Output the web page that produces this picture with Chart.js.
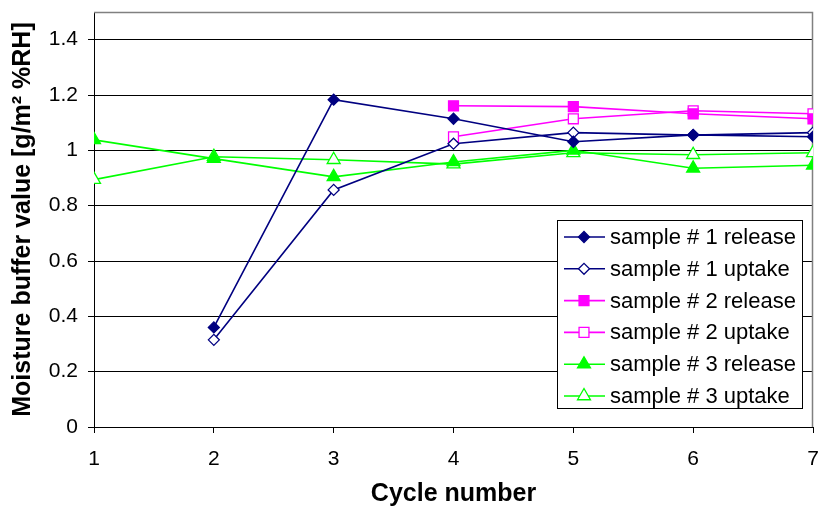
<!DOCTYPE html>
<html><head><meta charset="utf-8">
<script src="https://cdn.jsdelivr.net/npm/chart.js@4"></script>
<style>html,body{margin:0;padding:0;background:#fff}#wrap{width:819px;height:513px}</style>
</head><body><div id="wrap"><canvas id="c" width="819" height="513"></canvas></div>
<script>
const cycles = [1, 2, 3, 4, 5, 6, 7];
const s1Release = [null, 0.36, 1.183, 1.114, 1.031, 1.056, 1.049];
const s1Uptake  = [null, 0.315, 0.857, 1.024, 1.064, 1.055, 1.064];
const s2Release = [null, null, null, 1.161, 1.158, 1.132, 1.114];
const s2Uptake  = [null, null, null, 1.049, 1.114, 1.143, 1.132];
const s3Release = [1.038, 0.97, 0.904, 0.958, 1.0, 0.935, 0.946];
const s3Uptake  = [0.894, 0.977, 0.966, 0.95, 0.991, 0.984, 0.991];
const yTicks = [0, 0.2, 0.4, 0.6, 0.8, 1, 1.2, 1.4];

const pts = arr => cycles.map((c, i) => ({x: c, y: arr[i]}));
const NAVY = '#000080', MAG = '#FF00FF', GRN = '#00FF00';
function ds(label, arr, color, style, filled, r) {
  return {label, data: pts(arr), borderColor: color, backgroundColor: filled ? color : '#fff',
    pointBorderColor: color, pointBackgroundColor: filled ? color : '#fff',
    pointStyle: style, pointRadius: r, pointHoverRadius: r, pointBorderWidth: 1.3,
    borderWidth: 1.6, spanGaps: false, tension: 0};
}
const datasets = [
  ds('sample # 1 release', s1Release, NAVY, 'rectRot', true, 5.5),
  ds('sample # 1 uptake', s1Uptake, NAVY, 'rectRot', false, 5.5),
  ds('sample # 2 release', s2Release, MAG, 'rect', true, 7),
  ds('sample # 2 uptake', s2Uptake, MAG, 'rect', false, 7),
  ds('sample # 3 release', s3Release, GRN, 'triangle', true, 7.5),
  ds('sample # 3 uptake', s3Uptake, GRN, 'triangle', false, 7.5)
];

const FONT = '"Liberation Sans", Arial, sans-serif';
const widen = {
  id: 'widen',
  afterLayout(chart) {
    const target = 813;
    const d = target - chart.chartArea.right;
    if (d === 0) return;
    chart.chartArea.right += d;
    chart.chartArea.width = chart.chartArea.right - chart.chartArea.left;
    const x = chart.scales.x;
    x.right += d; x.width += d; x.configure();
    x._gridLineItems = null; x._labelItems = null;
    const y = chart.scales.y; y._gridLineItems = null;
  }
};
const frame = {
  id: 'frame',
  beforeDatasetsDraw(chart) {
    const a = chart.chartArea, ctx = chart.ctx;
    ctx.save(); ctx.strokeStyle = '#808080'; ctx.lineWidth = 1.5;
    ctx.beginPath(); ctx.moveTo(a.left, a.top + 0.5); ctx.lineTo(a.right - 0.5, a.top + 0.5);
    ctx.lineTo(a.right - 0.5, a.bottom); ctx.stroke(); ctx.restore();
  }
};
const boxLegend = {
  id: 'boxLegend',
  afterDatasetsDraw(chart) {
    const ctx = chart.ctx;
    const x0 = 557, y0 = 220, w = 245, h = 188;
    ctx.save();
    ctx.fillStyle = '#fff'; ctx.fillRect(x0, y0, w, h);
    ctx.strokeStyle = '#000'; ctx.lineWidth = 1; ctx.strokeRect(x0 + 0.5, y0 + 0.5, w, h);
    ctx.font = '22px ' + FONT;
    ctx.textBaseline = 'middle'; ctx.textAlign = 'left';
    chart.data.datasets.forEach((d, i) => {
      const cy = y0 + 17 + i * 31.8;
      ctx.strokeStyle = d.borderColor; ctx.lineWidth = 1.6;
      ctx.beginPath(); ctx.moveTo(564, cy); ctx.lineTo(605, cy); ctx.stroke();
      ctx.fillStyle = d.pointBackgroundColor; ctx.strokeStyle = d.pointBorderColor; ctx.lineWidth = 1.3;
      Chart.helpers.drawPoint(ctx, {pointStyle: d.pointStyle, radius: d.pointRadius, borderWidth: 1.3, rotation: 0}, 584, cy);
      ctx.fillStyle = '#000';
      ctx.fillText(d.label, 610, cy + 1);
    });
    ctx.restore();
  }
};

new Chart(document.getElementById('c'), {
  type: 'line',
  data: {datasets},
  plugins: [widen, frame, boxLegend],
  options: {
    responsive: false, animation: false, devicePixelRatio: 1,
    layout: {padding: {left: 0, top: 12, right: 6, bottom: 0}},
    plugins: {legend: {display: false}, tooltip: {enabled: false}},
    scales: {
      x: {type: 'linear', min: 1, max: 7,
        afterFit: s => { s.height = 86; s.paddingLeft = 0; s.paddingRight = 0; },
        afterBuildTicks: s => { s.ticks = cycles.map(v => ({value: v})); },
        grid: {drawOnChartArea: false, color: '#000', tickLength: 6, tickColor: '#000'},
        border: {color: '#000', width: 1},
        ticks: {color: '#000', padding: 14, maxRotation: 0, font: {family: FONT, size: 21}},
        title: {display: true, text: 'Cycle number', color: '#000', padding: {top: 0, bottom: 4},
          font: {family: FONT, size: 25, weight: 'bold'}}
      },
      y: {type: 'linear', min: 0, max: 1.5,
        afterFit: s => { s.width = 94; s.paddingTop = 0; s.paddingBottom = 0; },
        afterBuildTicks: s => { s.ticks = yTicks.map(v => ({value: v})); },
        grid: {color: '#000', lineWidth: 1, tickLength: 6, tickColor: '#000'},
        border: {color: '#000', width: 1},
        ticks: {color: '#000', padding: 10, font: {family: FONT, size: 21},
          callback: v => String(v)},
        title: {display: true, text: 'Moisture buffer value [g/m² %RH]', color: '#000', padding: {top: 8, bottom: 0},
          font: {family: FONT, size: 25, weight: 'bold'}}
      }
    }
  }
});
</script></body></html>
